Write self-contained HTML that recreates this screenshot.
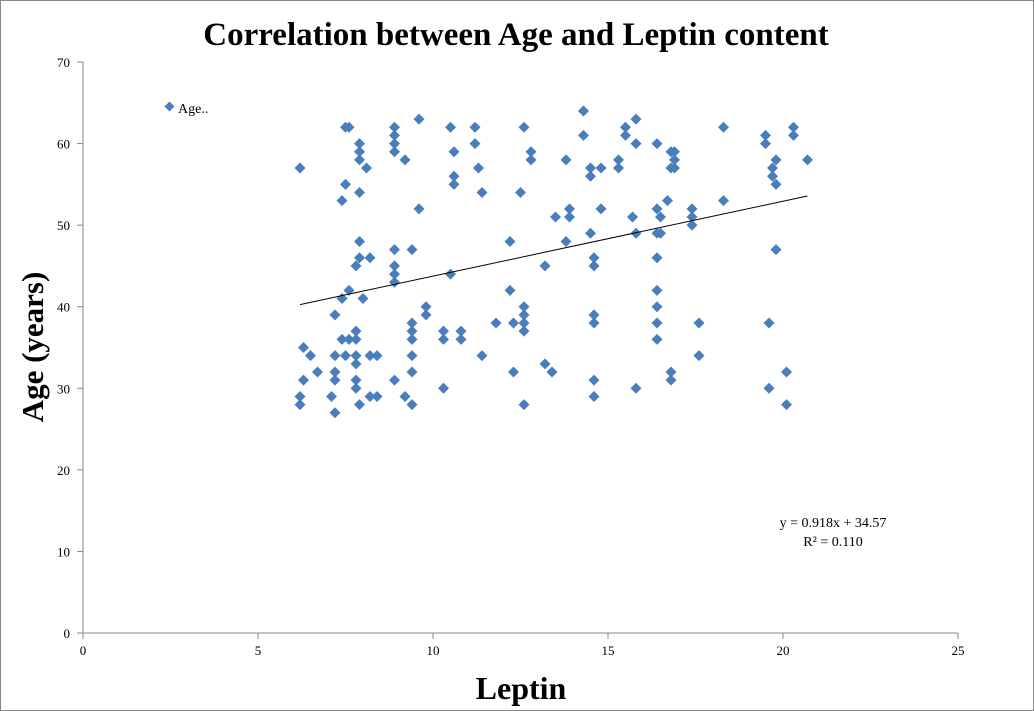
<!DOCTYPE html>
<html><head><meta charset="utf-8"><style>
html,body{margin:0;padding:0;background:#fff;}
svg{display:block;font-family:"Liberation Serif",serif;}
</style></head><body>
<svg id="chart" width="1034" height="711">
<rect x="0.5" y="0.5" width="1033" height="710" fill="#fff" stroke="#888"/>
<text x="516" y="45" text-anchor="middle" font-size="33" font-weight="bold">Correlation between Age and Leptin content</text>
<text transform="translate(43,347) rotate(-90)" text-anchor="middle" font-size="31" font-weight="bold">Age (years)</text>
<text x="521" y="699" text-anchor="middle" font-size="32" font-weight="bold">Leptin</text>
<g id="axes"></g>
<g id="marks"></g>
<g>
<rect x="166" y="103" width="7" height="7" fill="#4a7ebb" transform="rotate(45 169.5 106.5)"/>
<text x="178" y="113" font-size="14">Age..</text>
</g>
<text x="833" y="527" text-anchor="middle" font-size="14">y = 0.918x + 34.57</text>
<text x="833" y="546" text-anchor="middle" font-size="14">R² = 0.110</text>
</svg>
<script>
const xTicks=[0,5,10,15,20,25];
const yTicks=[0,10,20,30,40,50,60,70];
const leptin=[6.2,6.2,6.2,6.3,6.3,6.5,6.7,7.1,7.2,7.2,7.2,7.2,7.2,7.4,7.4,7.4,7.5,7.5,7.6,7.5,7.6,7.6,7.8,7.8,7.8,7.8,7.8,7.8,7.8,7.9,7.9,7.9,7.9,7.9,7.9,7.9,8.0,8.1,8.2,8.2,8.2,8.4,8.4,8.9,8.9,8.9,8.9,8.9,8.9,8.9,8.9,8.9,9.2,9.2,9.4,9.4,9.4,9.4,9.4,9.4,9.4,9.6,9.6,9.8,9.8,10.3,10.3,10.3,10.5,10.5,10.6,10.6,10.6,10.8,10.8,11.2,11.2,11.3,11.4,11.4,11.8,12.2,12.2,12.3,12.3,12.5,12.6,12.6,12.6,12.6,12.6,12.6,12.8,12.8,13.2,13.2,13.4,13.5,13.8,13.8,13.9,13.9,14.3,14.3,14.5,14.5,14.5,14.6,14.6,14.6,14.6,14.6,14.6,14.8,14.8,15.3,15.3,15.5,15.5,15.7,15.8,15.8,15.8,15.8,16.4,16.4,16.4,16.4,16.4,16.4,16.4,16.4,16.5,16.5,16.7,16.8,16.8,16.8,16.8,16.9,16.9,16.9,17.4,17.4,17.4,17.6,17.6,18.3,18.3,19.5,19.5,19.6,19.6,19.7,19.7,19.8,19.8,19.8,20.1,20.1,20.3,20.3,20.7];
const age=[57,29,28,35,31,34,32,29,39,32,31,34,27,53,41,36,34,62,62,55,42,36,45,37,36,34,33,31,30,60,59,58,54,48,46,28,41,57,46,34,29,34,29,62,61,60,59,47,45,44,43,31,58,29,47,38,37,36,34,32,28,63,52,40,39,37,36,30,62,44,59,56,55,37,36,62,60,57,54,34,38,48,42,38,32,54,62,40,39,38,37,28,59,58,45,33,32,51,58,48,52,51,64,61,57,56,49,46,45,39,38,31,29,57,52,58,57,62,61,51,63,60,49,30,60,52,49,46,42,40,38,36,51,49,53,59,57,32,31,59,58,57,52,51,50,38,34,62,53,61,60,38,30,57,56,58,55,47,28,32,62,61,58];
const slope=0.918, intercept=34.57;
const X=v=>83+v*35, Y=v=>633-v*(571/70);
const NS="http://www.w3.org/2000/svg";
const axes=document.getElementById('axes'), marks=document.getElementById('marks');
function mk(tag,attrs,parent){const e=document.createElementNS(NS,tag);for(const k in attrs)e.setAttribute(k,attrs[k]);parent.appendChild(e);return e;}
let l=mk('line',{x1:X(0),y1:Y(0),x2:X(0),y2:Y(70),stroke:'#888'},axes);


l=mk('line',{x1:X(0),y1:Y(0),x2:X(25),y2:Y(0),stroke:'#888'},axes);


xTicks.forEach(t=>{
 mk('line',{x1:X(t),y1:633,x2:X(t),y2:639,stroke:'#888'},axes);
 const tx=mk('text',{x:X(t),y:655,'text-anchor':'middle','font-size':13},axes);tx.textContent=t;
 
 
});
yTicks.forEach(t=>{
 mk('line',{x1:77,y1:Y(t),x2:83,y2:Y(t),stroke:'#888'},axes);
 const tx=mk('text',{x:70,y:Y(t)+5,'text-anchor':'end','font-size':13},axes);tx.textContent=t;
 
 
});
leptin.forEach((v,i)=>{
 const cx=X(v),cy=Y(age[i]);
 const p=mk('path',{d:`M${cx} ${cy-5.5}L${cx+5.5} ${cy}L${cx} ${cy+5.5}L${cx-5.5} ${cy}Z`,fill:'#4a7ebb'},marks);
 
 
});
const x0=Math.min(...leptin),x1=Math.max(...leptin);
const tl=mk('line',{x1:X(x0),y1:Y(slope*x0+intercept),x2:X(x1),y2:Y(slope*x1+intercept),stroke:'#000','stroke-width':1},marks);


</script>
</body></html>
